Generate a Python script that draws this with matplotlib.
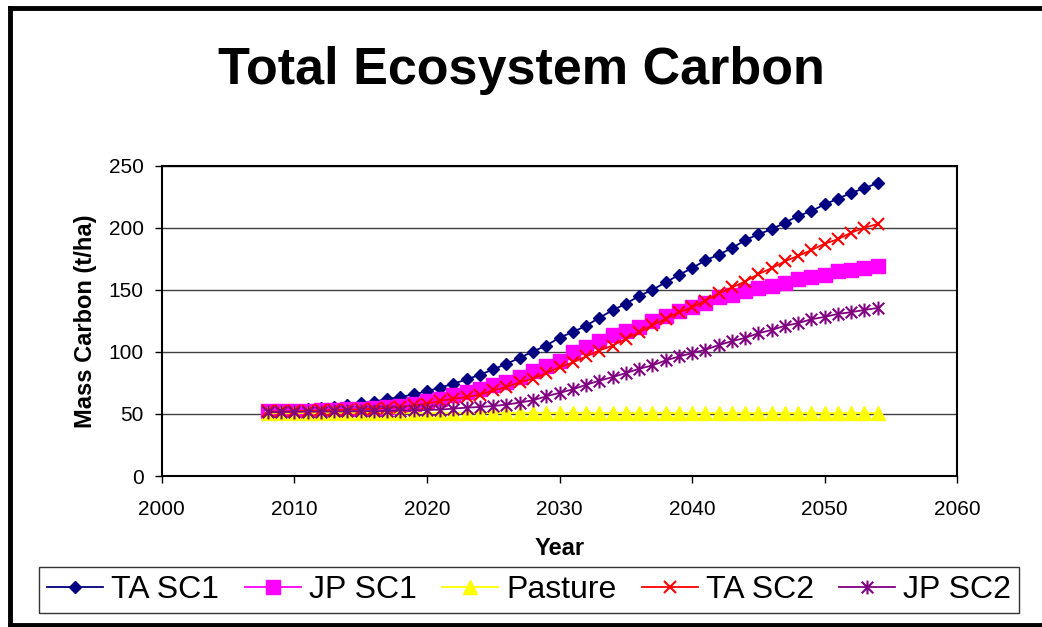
import matplotlib
matplotlib.use('Agg')
import matplotlib.pyplot as plt
import numpy as np
from matplotlib.path import Path
from matplotlib.lines import Line2D

plt.rcParams['font.family'] = ['Liberation Sans', 'DejaVu Sans']

years = list(range(2008, 2055))

ta_sc1 = [52.5, 53, 53.5, 54, 55, 56, 57.5, 58.5, 60, 62,
          63.6, 65.8, 68.3, 71.2, 74.4, 77.8, 81.6, 85.9, 90.4, 95.2,
          100.3, 105.1, 111.5, 116, 121, 127.5, 133.5, 138.8, 145, 150,
          156, 162, 167.5, 173.8, 178.3, 183.6, 190, 194.8, 198.8, 204.1,
          209.5, 213.5, 218.9, 223.4, 228.2, 231.8, 236.2]
jp_sc1 = [52, 52, 52.3, 52.6, 53, 53.3, 53.7, 54.2, 54.7, 55.3,
          56.2, 58.3, 60.4, 62.4, 65, 67.7, 70.4, 73.6, 75.7, 79.7,
          84.5, 89, 93, 100, 104, 109, 114, 117.2, 119.8, 124.6,
          129.2, 132.7, 135.9, 139.4, 143.9, 146.1, 149.3, 151.4, 153.3, 155.9,
          158.7, 160.5, 162.1, 164.8, 166.1, 167.5, 169.3]
pasture = [51, 51, 51, 51, 51, 51, 51, 51, 51, 51,
           51, 51, 51, 51, 51, 51, 51, 51, 51, 51,
           51, 51, 51, 51, 51, 51, 51, 51, 51, 51,
           51, 51, 51, 51, 51, 51, 51, 51, 51, 51,
           51, 51, 51, 51, 51, 51, 51]
ta_sc2 = [52, 52, 52.2, 52.5, 52.8, 53.1, 53.4, 53.8, 54.2, 54.8,
          55.6, 57, 58.3, 60.5, 62.3, 63.6, 65.5, 69, 71.7, 75.5,
          78.4, 82.9, 87.7, 91.5, 96.3, 101.1, 105.1, 110.5, 115.8, 121.5,
          126.6, 131.9, 135.9, 141.3, 147.1, 151.9, 156.7, 162.7, 167.5, 173,
          177.4, 182, 187.2, 190.8, 196.1, 200.1, 203]
jp_sc2 = [51.5, 51.6, 51.7, 51.8, 51.9, 52, 52.1, 52.2, 52.3, 52.5,
          52.7, 52.9, 53.2, 53.5, 54.3, 55.1, 55.6, 56.4, 57.5, 59.2,
          61, 64.2, 67, 69.8, 73.5, 76.8, 79.7, 82.9, 86.4, 89.1,
          93.1, 96.3, 99, 101.7, 105.5, 108.6, 111.3, 115, 117.7, 121,
          123.2, 126.3, 128.2, 130.6, 132, 133.8, 135.4]

# excel style asterisk: an x with a vertical bar through it
ast = Path([(-0.5, -0.5), (0.5, 0.5), (-0.5, 0.5), (0.5, -0.5), (0, -0.6), (0, 0.6)],
           [Path.MOVETO, Path.LINETO, Path.MOVETO, Path.LINETO, Path.MOVETO, Path.LINETO])

fig = plt.figure(figsize=(10.42, 6.27), dpi=100)
ax = fig.add_axes([0.1552, 0.2408, 0.7635, 0.4949])

ax.plot(years, ta_sc1, color='#000080', lw=1.3, marker='D', ms=6.5, label='TA SC1')
ax.plot(years, jp_sc1, color='#FF00FF', lw=1.3, marker='s', ms=9.5, label='JP SC1')
ax.plot(years, pasture, color='#FFFF00', lw=1.3, marker='^', ms=10, label='Pasture')
ax.plot(years, ta_sc2, color='#FF0000', lw=1.3, marker='x', ms=9, mew=1.5, label='TA SC2')
ax.plot(years, jp_sc2, color='#800080', lw=1.3, marker=ast, ms=10, mew=1.5,
        mfc='none', label='JP SC2')

ax.set_xlim(2000, 2060)
ax.set_ylim(0, 250)
ax.set_xticks(range(2000, 2061, 10))
ax.set_yticks(range(0, 251, 50))
ax.yaxis.grid(True, color='#404040', lw=1)
ax.set_axisbelow(True)
for s in ax.spines.values():
    s.set_color('black')
    s.set_linewidth(1.5)
ax.tick_params(direction='out', length=5, width=1, labelsize=15)
ax.tick_params(axis='x', pad=12)
ax.tick_params(axis='y', pad=8)

ax.set_ylabel('Mass Carbon (t/ha)', fontsize=17, fontweight='bold', labelpad=8)
ax.set_xlabel('Year', fontsize=17, fontweight='bold', labelpad=13)

fig.text(0.5, 0.888, 'Total Ecosystem Carbon', fontsize=37.5, fontweight='bold',
         ha='center', va='center')

leg = fig.legend(loc='center', bbox_to_anchor=(0.508, 0.059), ncol=5, fontsize=23,
                 frameon=True, fancybox=False, edgecolor='black', handlelength=1.75,
                 handletextpad=0.25, columnspacing=0.8, borderpad=0.25)
leg.get_frame().set_linewidth(1)

# outer chart border (right side runs off the image)
fig.add_artist(Line2D([10 / 1042, 10 / 1042], [1 - 8 / 627, 1 - 625 / 627],
                      transform=fig.transFigure, color='black', lw=3.5))
fig.add_artist(Line2D([10 / 1042, 1.01], [1 - 8 / 627, 1 - 8 / 627],
                      transform=fig.transFigure, color='black', lw=3.5))
fig.add_artist(Line2D([10 / 1042, 1.01], [1 - 625 / 627, 1 - 625 / 627],
                      transform=fig.transFigure, color='black', lw=3.5))

fig.savefig('out.png', dpi=100)
